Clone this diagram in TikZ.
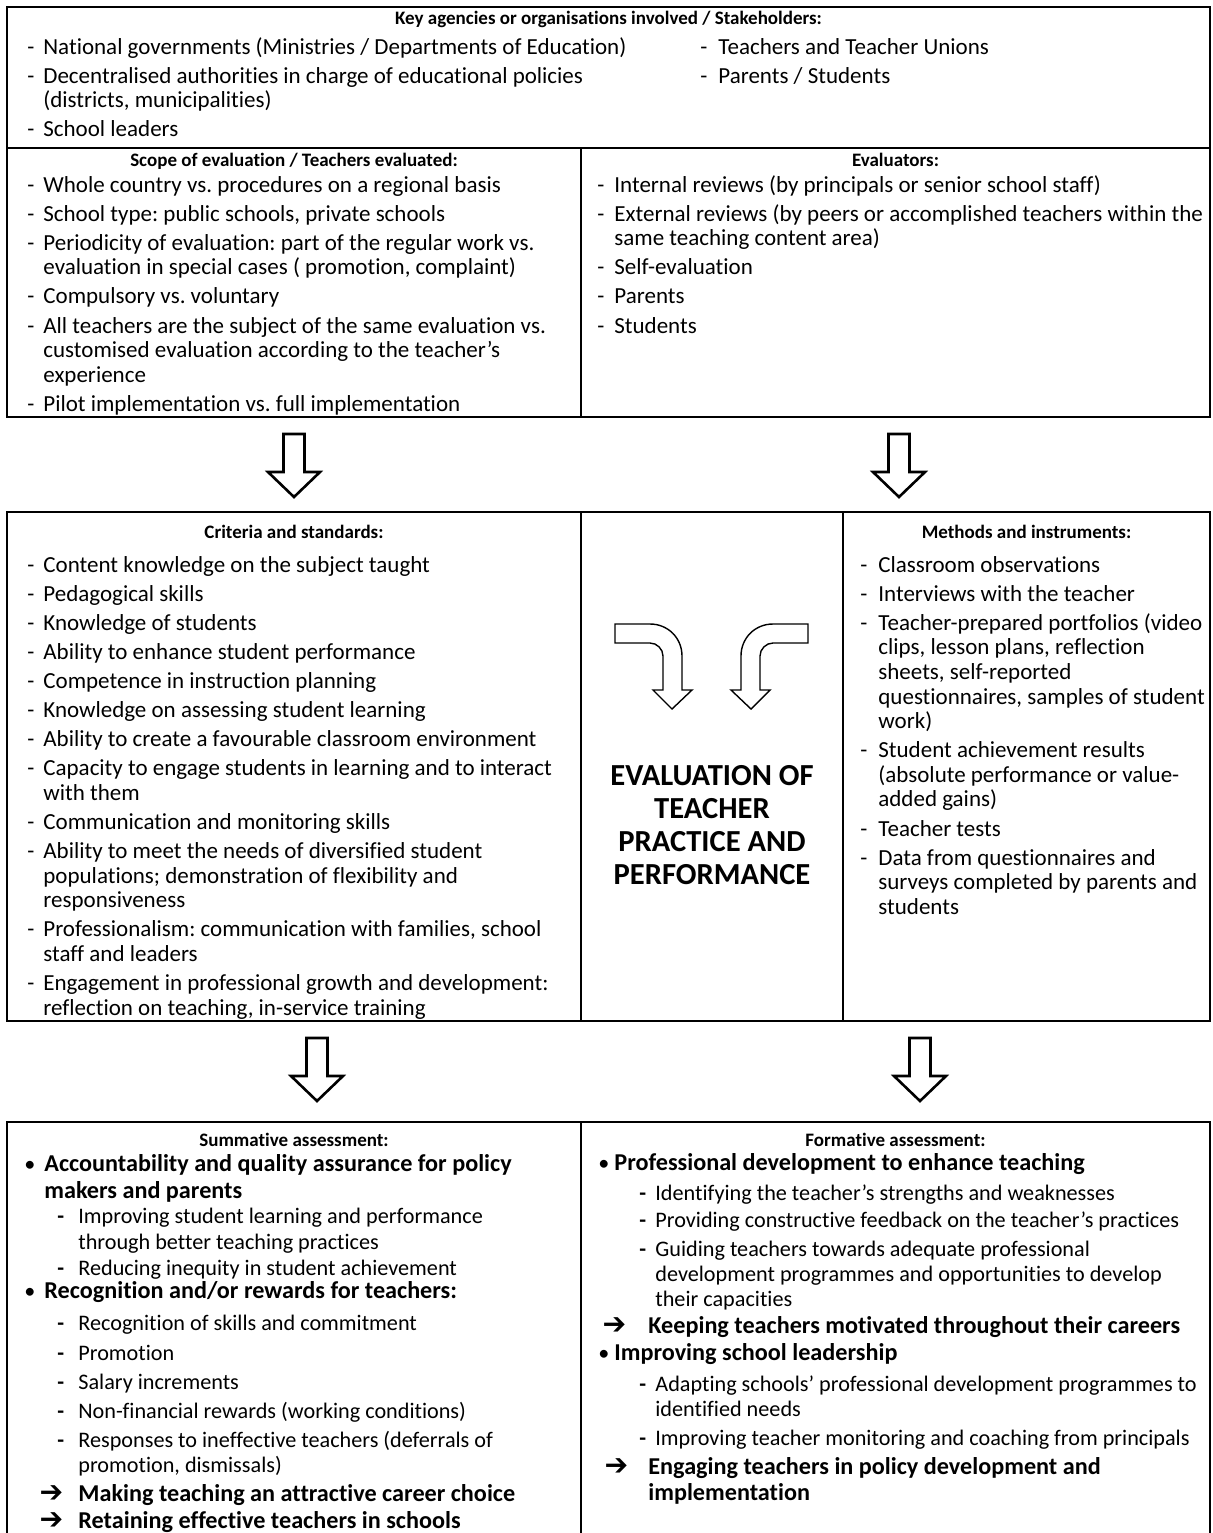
\documentclass[tikz,border=0pt]{standalone}
\usepackage{fontspec}
\usepackage{pifont}
\setmainfont{Carlito}[Ligatures={TeX,NoCommon}]
\frenchspacing
\newcommand{\arw}{{\fontsize{12.5}{12.5}\selectfont\ding{212}}}
\newcommand{\lead}[3]{\hspace*{#1}\makebox[#2][l]{#3}}
\newcommand{\bigb}[1]{{\fontsize{12.1}{12.5}\selectfont\bfseries #1}}
\newlength{\itemgap}
\setlength{\itemgap}{2.25pt}
\tikzset{
  boxLine/.style={draw=black, line width=0.8pt},
  arrowLine/.style={draw=black, line width=1.3pt, fill=white},
  bendLine/.style={draw=black, line width=0.7pt, fill=white},
  headText/.style={
    font=\bfseries\fontsize{9.5}{12}\selectfont,
    anchor=base,
    inner sep=0pt
  },
  listText/.style={
    font=\fontsize{11.5}{12.3}\selectfont,
    anchor=base west,
    inner sep=0pt
  },
  assessText/.style={
    font=\fontsize{11.1}{12.5}\selectfont,
    anchor=base west,
    inner sep=0pt
  },
  titleText/.style={
    font=\bfseries\fontsize{15.3}{16.5}\selectfont,
    align=center,
    inner sep=0pt
  },
  hollowArrow/.pic={
    \draw[arrowLine] (-10.5,0) -- (10.5,0) -- (10.5,38) -- (26,38)
      -- (0,63) -- (-26,38) -- (-10.5,38) -- cycle;
  },
  bentArrow/.pic={
    \draw[bendLine] (-57,-85) -- (-22,-85)
      .. controls (-4,-85) and (10,-71) .. (10,-53)
      -- (10,-19) -- (20,-19) -- (0,0) -- (-19,-19) -- (-9,-19) -- (-9,-53)
      .. controls (-9,-60) and (-15,-66) .. (-22,-66)
      -- (-57,-66) -- cycle;
  }
}

\begin{document}
\begin{tikzpicture}[x=0.5pt,y=-0.5pt]
  \useasboundingbox (0,0) rectangle (1213,1533);

  % frames
  \draw[boxLine] (7,7) rectangle (1210,417);
  \draw[boxLine] (7,148) -- (1210,148);
  \draw[boxLine] (581,148) -- (581,417);
  \draw[boxLine] (7,512) rectangle (1210,1021);
  \draw[boxLine] (581,512) -- (581,1021);
  \draw[boxLine] (843,512) -- (843,1021);
  \draw[boxLine] (7,1122) rectangle (1210,1560);
  \draw[boxLine] (581,1122) -- (581,1560);

  % stakeholders
  \node[headText] (stakeHead) at (608.5,24)
    {Key agencies or organisations involved / Stakeholders:};
  \node[listText] (stakeL) at (27,54) {\begin{tabular}[t]{@{}p{8pt}@{}l@{}}
    - & National governments (Ministries / Departments of Education)\\[\itemgap]
    - & Decentralised authorities in charge of educational policies\\
      & (districts, municipalities)\\[\itemgap]
    - & School leaders
  \end{tabular}};
  \node[listText] (stakeR) at (700,54) {\begin{tabular}[t]{@{}p{9pt}@{}l@{}}
    - & Teachers and Teacher Unions\\[\itemgap]
    - & Parents / Students
  \end{tabular}};

  % scope and evaluators
  \node[headText] (scopeHead) at (294,166)
    {Scope of evaluation / Teachers evaluated:};
  \node[listText] (scope) at (27,192) {\begin{tabular}[t]{@{}p{8pt}@{}l@{}}
    - & Whole country vs. procedures on a regional basis\\[\itemgap]
    - & School type: public schools, private schools\\[\itemgap]
    - & Periodicity of evaluation: part of the regular work vs.\\
      & evaluation in special cases ( promotion, complaint)\\[\itemgap]
    - & Compulsory vs. voluntary\\[\itemgap]
    - & All teachers are the subject of the same evaluation vs.\\
      & customised evaluation according to the teacher’s\\
      & experience\\[\itemgap]
    - & Pilot implementation vs. full implementation
  \end{tabular}};
  \node[headText] (evalHead) at (895.5,166) {Evaluators:};
  \node[listText] (evaluators) at (597,192) {\begin{tabular}[t]{@{}p{8.5pt}@{}l@{}}
    - & Internal reviews (by principals or senior school staff)\\[\itemgap]
    - & External reviews (by peers or accomplished teachers within the\\
      & same teaching content area)\\[\itemgap]
    - & Self-evaluation\\[\itemgap]
    - & Parents\\[\itemgap]
    - & Students
  \end{tabular}};

  \pic (arrTL) at (294,434) {hollowArrow};
  \pic (arrTR) at (899,434) {hollowArrow};

  % criteria, centre, methods
  \node[headText] (critHead) at (294,538) {Criteria and standards:};
  \node[listText] (criteria) at (27,572) {\begin{tabular}[t]{@{}p{8pt}@{}l@{}}
    - & Content knowledge on the subject taught\\[\itemgap]
    - & Pedagogical skills\\[\itemgap]
    - & Knowledge of students\\[\itemgap]
    - & Ability to enhance student performance\\[\itemgap]
    - & Competence in instruction planning\\[\itemgap]
    - & Knowledge on assessing student learning\\[\itemgap]
    - & Ability to create a favourable classroom environment\\[\itemgap]
    - & Capacity to engage students in learning and to interact\\
      & with them\\[\itemgap]
    - & Communication and monitoring skills\\[\itemgap]
    - & Ability to meet the needs of diversified student\\
      & populations; demonstration of flexibility and\\
      & responsiveness\\[\itemgap]
    - & Professionalism: communication with families, school\\
      & staff and leaders\\[\itemgap]
    - & Engagement in professional growth and development:\\
      & reflection on teaching, in-service training
  \end{tabular}};

  \pic (bendL) at (672,709) {bentArrow};
  \pic[xscale=-1] (bendR) at (751,709) {bentArrow};
  \node[titleText] (title) at (712,825)
    {EVALUATION OF\\TEACHER\\PRACTICE AND\\PERFORMANCE};

  \node[headText] (methHead) at (1026.5,538) {Methods and instruments:};
  \node[listText] (methods) at (860,572) {\begin{tabular}[t]{@{}p{9pt}@{}l@{}}
    - & Classroom observations\\[\itemgap]
    - & Interviews with the teacher\\[\itemgap]
    - & Teacher-prepared portfolios (video\\
      & clips, lesson plans, reflection\\
      & sheets, self-reported\\
      & questionnaires, samples of student\\
      & work)\\[\itemgap]
    - & Student achievement results\\
      & (absolute performance or value-\\
      & added gains)\\[\itemgap]
    - & Teacher tests\\[\itemgap]
    - & Data from questionnaires and\\
      & surveys completed by parents and\\
      & students
  \end{tabular}};

  \pic (arrBL) at (317,1038) {hollowArrow};
  \pic (arrBR) at (920,1038) {hollowArrow};

  % summative and formative
  \node[headText] (summHead) at (294,1146) {Summative assessment:};
  \node[assessText] (summ) at (30,1171) {\begin{tabular}[t]{@{}l@{}}
    \lead{-3pt}{10pt}{\textbullet}\bigb{Accountability and quality assurance for policy}\\[1pt]
    \lead{7pt}{0pt}{}\bigb{makers and parents}\\
    \lead{13.5pt}{10.5pt}{\textbf{-}}Improving student learning and performance\\[0.5pt]
    \lead{24pt}{0pt}{}through better teaching practices\\[0.5pt]
    \lead{13.5pt}{10.5pt}{\textbf{-}}Reducing inequity in student achievement\\[-1pt]
    \lead{-3pt}{10pt}{\textbullet}\bigb{Recognition and/or rewards for teachers:}\\[3.5pt]
    \lead{13.5pt}{10.5pt}{\textbf{-}}Recognition of skills and commitment\\[2.5pt]
    \lead{13.5pt}{10.5pt}{\textbf{-}}Promotion\\[2pt]
    \lead{13.5pt}{10.5pt}{\textbf{-}}Salary increments\\[2pt]
    \lead{13.5pt}{10.5pt}{\textbf{-}}Non-financial rewards (working conditions)\\[2pt]
    \lead{13.5pt}{10.5pt}{\textbf{-}}Responses to ineffective teachers (deferrals of\\
    \lead{24pt}{0pt}{}promotion, dismissals)\\[2pt]
    \lead{5pt}{19pt}{\arw}\bigb{Making teaching an attractive career choice}\\[1pt]
    \lead{5pt}{19pt}{\arw}\bigb{Retaining effective teachers in schools}
  \end{tabular}};

  \node[headText] (formHead) at (895.5,1146) {Formative assessment:};
  \node[assessText] (form) at (602,1170) {\begin{tabular}[t]{@{}l@{}}
    \lead{-2pt}{8pt}{\textbullet}\bigb{Professional development to enhance teaching}\\[2.5pt]
    \lead{18.5pt}{8pt}{\textbf{-}}Identifying the teacher’s strengths and weaknesses\\[1pt]
    \lead{18.5pt}{8pt}{\textbf{-}}Providing constructive feedback on the teacher’s practices\\[2pt]
    \lead{18.5pt}{8pt}{\textbf{-}}Guiding teachers towards adequate professional\\
    \lead{26.5pt}{0pt}{}development programmes and opportunities to develop\\
    \lead{26.5pt}{0pt}{}their capacities\\[1pt]
    \lead{0.5pt}{22.5pt}{\arw}\bigb{Keeping teachers motivated throughout their careers}\\[1pt]
    \lead{-2pt}{8pt}{\textbullet}\bigb{Improving school leadership}\\[3pt]
    \lead{18.5pt}{8pt}{\textbf{-}}Adapting schools’ professional development programmes to\\
    \lead{26.5pt}{0pt}{}identified needs\\[2pt]
    \lead{18.5pt}{8pt}{\textbf{-}}Improving teacher monitoring and coaching from principals\\[2pt]
    \lead{1.5pt}{21.5pt}{\arw}\bigb{Engaging teachers in policy development and}\\[0.5pt]
    \lead{23pt}{0pt}{}\bigb{implementation}
  \end{tabular}};
\end{tikzpicture}
\end{document}
